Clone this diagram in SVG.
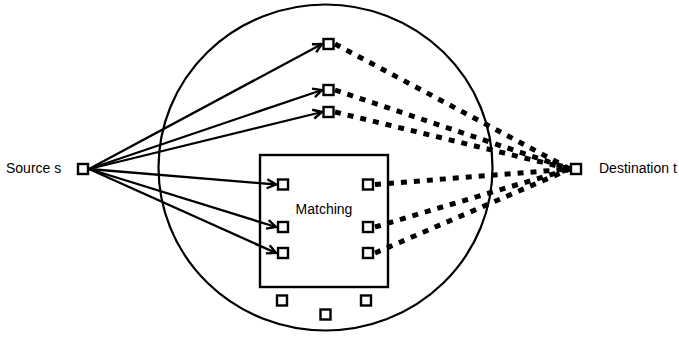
<svg xmlns="http://www.w3.org/2000/svg" width="679" height="337" viewBox="0 0 679 337">
<defs>
<marker id="arr" markerUnits="userSpaceOnUse" markerWidth="12" markerHeight="12" viewBox="-10 -6 12 12" refX="0" refY="0" orient="auto">
<path d="M-9,-4.5 L0,0 L-9,4.5" fill="none" stroke="#000" stroke-width="2.4"/>
</marker>
<style>
.nd{fill:#fff;stroke:#000;stroke-width:2.4}
.sol{stroke:#000;stroke-width:2.3;fill:none}
.dot{stroke:#000;stroke-width:5;fill:none;stroke-dasharray:6 7}
.lbl{font-family:"Liberation Sans",Arial,sans-serif;font-size:14px;fill:#000}
</style>
</defs>
<rect width="679" height="337" fill="#fff"/>
<ellipse id="circle" cx="325.5" cy="167.5" rx="167" ry="163" fill="none" stroke="#000" stroke-width="2.2"/>
<g id="matching">
<rect x="260" y="155" width="128" height="132" fill="none" stroke="#000" stroke-width="2.4"/>
<text class="lbl" x="324" y="214" text-anchor="middle">Matching</text>
</g>
<g id="connectors">
<line class="sol" x1="89" y1="169" x2="322" y2="44" marker-end="url(#arr)"/>
<line class="sol" x1="89" y1="169" x2="322" y2="90" marker-end="url(#arr)"/>
<line class="sol" x1="89" y1="169" x2="322" y2="112" marker-end="url(#arr)"/>
<line class="sol" x1="89" y1="169" x2="276" y2="184.5" marker-end="url(#arr)"/>
<line class="sol" x1="89" y1="169" x2="276" y2="227" marker-end="url(#arr)"/>
<line class="sol" x1="89" y1="169" x2="276" y2="253" marker-end="url(#arr)"/>
<line class="dot" x1="335" y1="44" x2="570" y2="169"/>
<line class="dot" x1="335" y1="90" x2="570" y2="169"/>
<line class="dot" x1="335" y1="112" x2="570" y2="169"/>
<line class="dot" x1="375" y1="184.5" x2="570" y2="169"/>
<line class="dot" x1="375" y1="227" x2="570" y2="169"/>
<line class="dot" x1="375" y1="253" x2="570" y2="169"/>
</g>
<g id="source"><rect class="nd" x="78" y="164" width="10" height="10"/><text class="lbl" x="6" y="172.5">Source s</text></g>
<g id="destination"><rect class="nd" x="571" y="164" width="10" height="10"/><text class="lbl" x="599" y="172.5">Destination t</text></g>
<g id="n1"><rect class="nd" x="323.5" y="39" width="10" height="10"/></g>
<g id="n2"><rect class="nd" x="323.5" y="85" width="10" height="10"/></g>
<g id="n3"><rect class="nd" x="323.5" y="107" width="10" height="10"/></g>
<g id="m1"><rect class="nd" x="278" y="179.5" width="10" height="10"/></g>
<g id="m2"><rect class="nd" x="278" y="222" width="10" height="10"/></g>
<g id="m3"><rect class="nd" x="278" y="248" width="10" height="10"/></g>
<g id="m4"><rect class="nd" x="363" y="179.5" width="10" height="10"/></g>
<g id="m5"><rect class="nd" x="363" y="222" width="10" height="10"/></g>
<g id="m6"><rect class="nd" x="363" y="248" width="10" height="10"/></g>
<g id="b1"><rect class="nd" x="277" y="295.5" width="10" height="10"/></g>
<g id="b2"><rect class="nd" x="320.5" y="309.5" width="10" height="10"/></g>
<g id="b3"><rect class="nd" x="361" y="295.5" width="10" height="10"/></g>
</svg>
